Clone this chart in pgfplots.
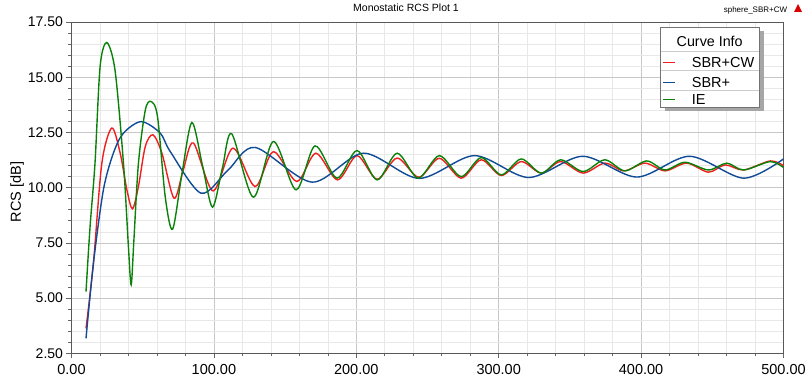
\documentclass[border=0pt]{standalone}
\usepackage{pgfplots}
\pgfplotsset{compat=1.18}
\usepackage{pgfplotstable}
\usepackage{fontspec}
\setmainfont{Liberation Sans}
\definecolor{cred}{RGB}{240,30,30}
\definecolor{cblue}{RGB}{15,75,150}
\definecolor{cgreen}{RGB}{10,130,10}

\pgfplotstableread{
x y
10.2 3.63
15.4 6.58
21.3 11.1
28.3 12.7
34.2 11.56
38.9 9.9
42.8 9.04
47 10.05
51.8 11.86
57.2 12.39
63.5 11.56
72 9.52
78.5 10.8
85.6 12.02
99.4 9.85
113.4 11.79
128.9 10.05
141.8 11.63
158.2 10.28
171.6 11.56
186.8 10.35
200.5 11.45
214.6 10.38
228.7 11.34
243.9 10.47
258.3 11.33
273.6 10.43
287.7 11.26
301.8 10.55
315.8 11.18
329.9 10.66
343.5 11.18
359.3 10.66
374.5 11.11
388 10.76
402.7 11.11
416.8 10.76
432 11.11
447.3 10.7
459 11.03
472 10.8
490.7 11.21
500 11.0
}\redtab

\pgfplotstableread{
x y
10.2 3.18
15.4 6.58
22.4 9.9
29.4 11.56
36.5 12.47
49 12.99
62.3 12.47
69.4 11.63
91 9.75
110 10.8
129 11.82
169 10.25
205 11.56
244 10.42
283 11.45
321 10.46
359 11.42
397 10.48
434 11.42
472 10.43
500 11.3
}\bluetab

\pgfplotstableread{
x y
10.2 5.29
13 8.2
16.5 11.1
20.1 15.49
24.8 16.57
30.6 15.3
36.5 11.1
40 7.3
41.9 5.6
43.8 7.6
47 11.1
51.8 13.5
55.8 13.9
60.4 13.22
65.8 9.6
71 8.12
77.5 10.6
84.5 12.95
92 11.0
99 9.12
106 10.9
112.5 12.44
127.7 9.57
141.8 12.09
157.7 9.9
171 11.89
186.4 10.43
200.5 11.68
214.6 10.35
228.7 11.56
243.4 10.43
258.3 11.45
273.6 10.5
287.7 11.36
301.8 10.58
315.8 11.3
329.9 10.66
343.5 11.26
359.3 10.73
374.5 11.26
388.6 10.76
403.9 11.21
416.8 10.8
430.8 11.15
447.3 10.8
460.2 11.11
472 10.8
490.7 11.18
500 10.91
}\greentab

\begin{document}
\begin{tikzpicture}[x=1pt,y=1pt]
\begin{axis}[
  scale only axis, width=712pt, height=331.3pt,
  xmin=0, xmax=500, ymin=2.5, ymax=17.5,
  xtick={0,100,200,300,400,500},
  ytick={2.5,5,7.5,10,12.5,15,17.5},
  minor x tick num=4, minor y tick num=4,
  grid=both,
  major grid style={draw=black!22, line width=0.6pt},
  minor grid style={draw=black!9, line width=0.6pt},
  axis line style={draw=black!65, line width=0.8pt},
  tick align=outside, tick pos=left,
  major tick length=5pt, minor tick length=3pt,
  every tick/.style={draw=black!60, line width=0.6pt},
  xticklabel shift=3pt,
  x tick label style={font=\fontsize{14.5}{15}\selectfont,
    /pgf/number format/.cd, fixed, fixed zerofill, precision=2, assume math mode=true},
  y tick label style={font=\fontsize{14}{14}\selectfont,
    /pgf/number format/.cd, fixed, fixed zerofill, precision=2, assume math mode=true},
  ylabel={RCS [dB]},
  ylabel style={font=\fontsize{14.5}{15}\selectfont, at={(axis description cs:-0.0765,0.487)}, anchor=center},
]
\coordinate (sw) at (rel axis cs:0,0);
\addplot[cred, line width=1.4pt, smooth] table[x=x,y=y] {\redtab};
\addplot[cblue, line width=1.4pt, smooth] table[x=x,y=y] {\bluetab};
\addplot[cgreen, line width=1.4pt, smooth] table[x=x,y=y] {\greentab};
\end{axis}
\begin{scope}[shift={(sw)}, shift={(-71.5,-27.7)}]
% title and note
\node[font=\fontsize{10.5}{11}\selectfont] at (406,373) {Monostatic RCS Plot 1};
\node[font=\fontsize{8}{8}\selectfont] at (755.5,371) {sphere\_SBR+CW};
\fill[red!85!black] (794,369) -- (802,369) -- (798,377) -- cycle;
% legend
\fill[black!35] (664.5,349.5) rectangle (763.5,269.5);
\filldraw[fill=white, draw=black!55, line width=0.6pt] (660.7,353.7) rectangle (759.3,273.7);
\draw[black!20, line width=0.6pt] (660.7,330) -- (759.3,330);
\draw[black!20, line width=0.6pt] (660.7,310.3) -- (759.3,310.3);
\draw[black!20, line width=0.6pt] (660.7,290.3) -- (759.3,290.3);
\node[font=\fontsize{14.3}{15}\selectfont, inner sep=0pt] at (709.7,339.3) {Curve Info};
\draw[cred, line width=1pt] (663,318.7) -- (675,318.7);
\draw[cblue, line width=1pt] (663,298.7) -- (675,298.7);
\draw[cgreen, line width=1pt] (663,281) -- (675,281);
\node[font=\fontsize{14.5}{15}\selectfont, inner sep=0pt, anchor=west] at (691.7,318.7) {SBR+CW};
\node[font=\fontsize{14.5}{15}\selectfont, inner sep=0pt, anchor=west] at (691.7,298.7) {SBR+};
\node[font=\fontsize{14.5}{15}\selectfont, inner sep=0pt, anchor=west] at (691.7,281) {IE};
\pgfresetboundingbox
\useasboundingbox (0,0) rectangle (807,381);
\end{scope}
\end{tikzpicture}
\end{document}
